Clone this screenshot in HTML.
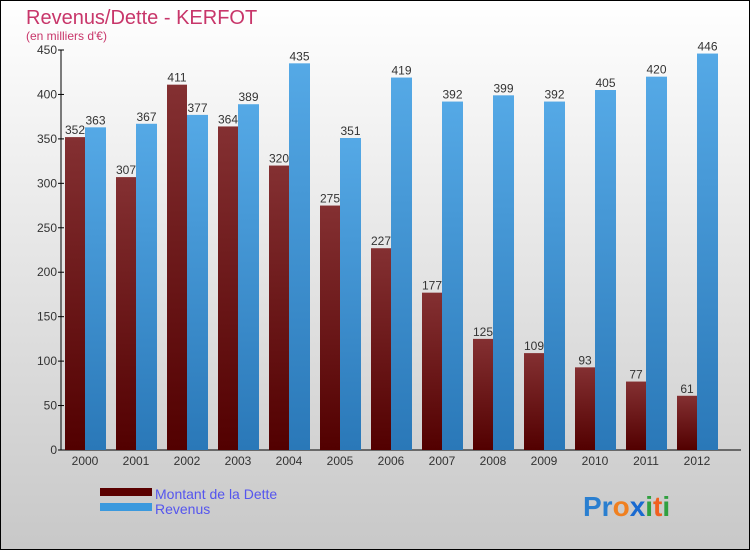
<!DOCTYPE html>
<html><head><meta charset="utf-8"><style>
html,body{margin:0;padding:0;}
body{width:750px;height:550px;overflow:hidden;font-family:"Liberation Sans",sans-serif;}
</style></head><body>
<svg width="750" height="550" xmlns="http://www.w3.org/2000/svg">
<defs>
<linearGradient id="bg" x1="0" y1="0" x2="0" y2="1"><stop offset="0" stop-color="#ffffff"/><stop offset="1" stop-color="#c8c8c8"/></linearGradient>
<linearGradient id="gd" x1="0" y1="0" x2="0" y2="1"><stop offset="0" stop-color="#843032"/><stop offset="1" stop-color="#520000"/></linearGradient>
<linearGradient id="gr" x1="0" y1="0" x2="0" y2="1"><stop offset="0" stop-color="#55a9e6"/><stop offset="1" stop-color="#2a78b8"/></linearGradient>
</defs>
<rect x="0.5" y="0.5" width="749" height="549" fill="url(#bg)" stroke="#000"/>
<text x="26" y="24" font-size="20" fill="#c8366a">Revenus/Dette - KERFOT</text>
<text x="26" y="40" font-size="12" fill="#c8366a">(en milliers d'€)</text>
<g id="axes"></g>
<g id="bars"></g>
<g>
<rect x="100" y="488" width="52" height="8" fill="#5a0000"/>
<text x="155" y="499" font-size="14" fill="#5555ee">Montant de la Dette</text>
<rect x="100" y="503" width="52" height="8" fill="#3a99de"/>
<text x="155" y="514" font-size="14" fill="#5555ee">Revenus</text>
</g>
<text x="583" y="516" font-size="28" font-weight="bold"><tspan fill="#2a7fd0">Pr</tspan><tspan fill="#f08020">o</tspan><tspan fill="#1a6ad0">x</tspan><tspan fill="#30a040">i</tspan><tspan fill="#f06020">t</tspan><tspan fill="#30a040">i</tspan></text>
</svg>
<script>
const years=["2000","2001","2002","2003","2004","2005","2006","2007","2008","2009","2010","2011","2012"];
const dette=[352,307,411,364,320,275,227,177,125,109,93,77,61];
const revenus=[363,367,377,389,435,351,419,392,399,392,405,420,446];
const yTicks=[0,50,100,150,200,250,300,350,400,450];
const NS="http://www.w3.org/2000/svg";
const y0=450,yTop=50,yMax=450;
function yS(v){return y0-(v/yMax)*(y0-yTop);}
function xC(i){return 85+i*51;}
function mk(tag,attrs,parent){const e=document.createElementNS(NS,tag);for(const k in attrs)e.setAttribute(k,attrs[k]);parent.appendChild(e);return e;}
const ax=document.getElementById('axes'),bars=document.getElementById('bars');
const yl=mk('line',{x1:61,y1:yTop,x2:61,y2:y0,stroke:'#000'},ax);


const xl=mk('line',{x1:61,y1:y0,x2:741,y2:y0,stroke:'#000'},ax);


yTicks.forEach(v=>{
 const t=mk('line',{x1:58,y1:yS(v),x2:64,y2:yS(v),stroke:'#000'},ax);
 
 
 const l=mk('text',{x:57,y:yS(v)+4,'font-size':12,fill:'#333','text-anchor':'end'},ax);
 l.textContent=v;
 
 
});
years.forEach((yr,i)=>{
 const c=xC(i);
 const l=mk('text',{x:c,y:465,'font-size':12,fill:'#333','text-anchor':'middle'},ax);
 l.textContent=yr;
 
 
 const b1=mk('rect',{x:c-20,y:yS(dette[i]),width:20,height:y0-yS(dette[i]),fill:'url(#gd)'},bars);
 
 
 const b2=mk('rect',{x:c,y:yS(revenus[i]),width:21,height:y0-yS(revenus[i]),fill:'url(#gr)'},bars);
 
 
 const t1=mk('text',{x:c-10,y:yS(dette[i])-3,'font-size':12,fill:'#333','text-anchor':'middle'},bars);
 t1.textContent=dette[i];
 
 
 const t2=mk('text',{x:c+10.5,y:yS(revenus[i])-3,'font-size':12,fill:'#333','text-anchor':'middle'},bars);
 t2.textContent=revenus[i];
 
 
});
</script>
</body></html>
